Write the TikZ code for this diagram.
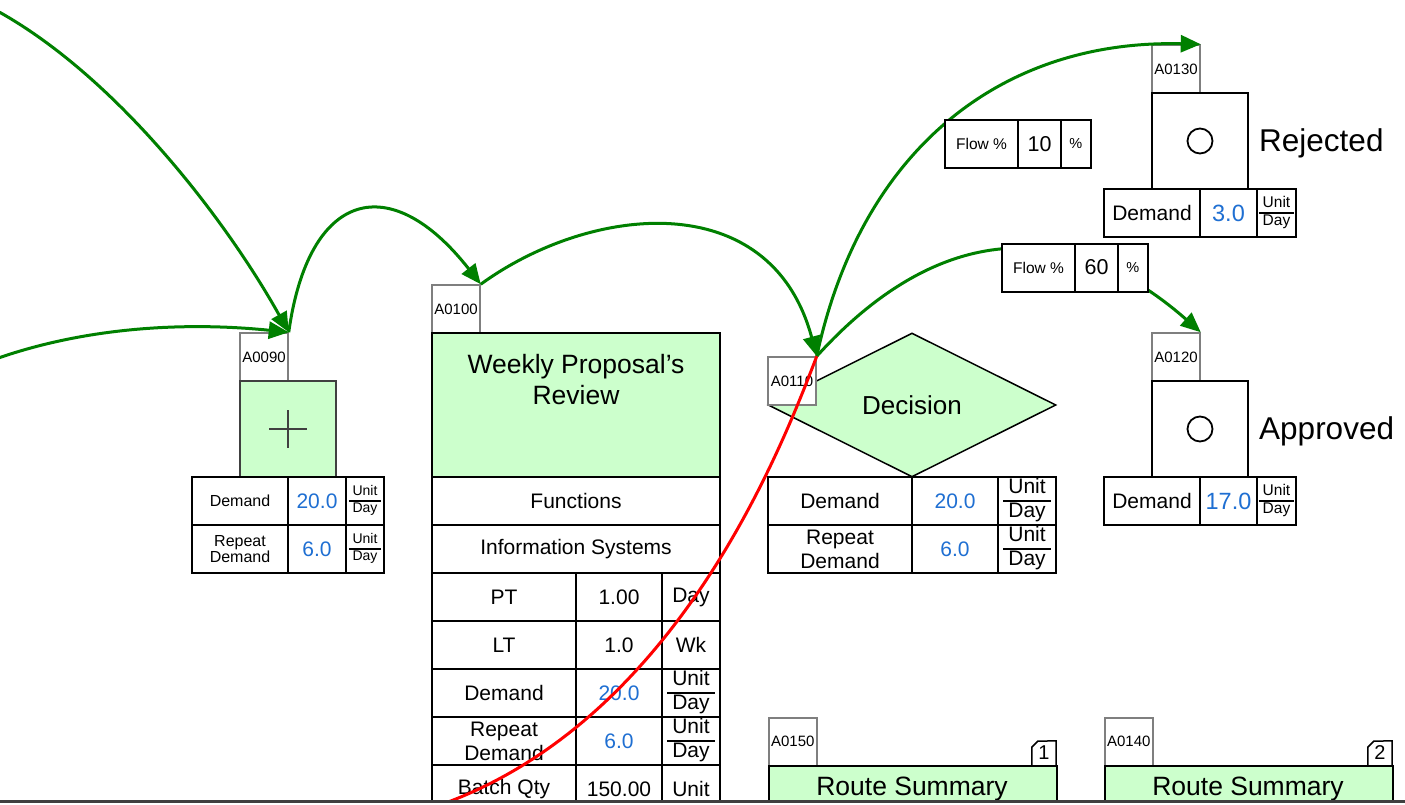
\documentclass[tikz,border=0pt]{standalone}
\usepackage{fontspec}
\setmainfont{Liberation Sans}
\usetikzlibrary{arrows.meta, shapes.geometric}
\definecolor{FG}{HTML}{008000}
\definecolor{LG}{HTML}{CCFFCC}
\definecolor{VB}{HTML}{1F6FD2}
\definecolor{MG}{HTML}{7F7F7F}
\definecolor{DG}{HTML}{404040}
\newcommand{\fsz}[2]{\fontsize{#1}{#2}\selectfont}
\newcommand{\perday}[2]{{\fsz{#1}{#2}\setlength{\arrayrulewidth}{1.5pt}%
  \begin{tabular}{@{\hspace{.25em}}c@{\hspace{.25em}}}Unit\\\hline Day\end{tabular}}}

\begin{document}
\begin{tikzpicture}[x=1pt, y=-1pt,
  tag/.style={draw=MG, fill=white, line width=1.5pt, minimum width=48pt,
              minimum height=48pt, inner sep=0pt, font=\fsz{15}{16}},
  cell/.style={draw=black, fill=white, line width=2pt, inner sep=0pt,
               outer sep=0pt, align=center, minimum height=48pt},
  lbl/.style={cell, font=\fsz{21}{24}},
  val/.style={cell, text=VB, font=\fsz{21}{23}},
  act/.style={draw=black, fill=LG, line width=2pt, inner sep=0pt},
  endbox/.style={draw=black, fill=white, line width=2pt,
                 minimum width=96pt, minimum height=96pt},
  ring/.style={circle, draw=black, line width=1.8pt, minimum size=25pt, inner sep=0pt},
  flow/.style={draw=FG, line width=3pt, -{Triangle[length=20pt,width=17pt]}}
]
\useasboundingbox (0,0) rectangle (1405,805);
\begin{scope}
\clip (0,0) rectangle (1405,800);

% A0090 junction
\node[tag] (tag90) at (264,357) {A0090};
\node[act, draw=DG, line width=2.5pt, minimum width=96pt, minimum height=96pt] (box90) at (288,429) {};
\draw[DG, line width=2.2pt] (box90.center) +(-19,0) -- +(19,0) +(0,-19) -- +(0,19);
\foreach \y/\n/\lab/\v in {501/d/Demand/20.0, 549/r/{Repeat\\Demand}/6.0}
{
  \node[cell, minimum width=96pt, font=\fsz{16}{16.5}] (\n90a) at (240,\y) {\lab};
  \node[val, minimum width=58pt] (\n90b) at (317,\y) {\v};
  \node[cell, minimum width=38pt] (\n90c) at (365,\y) {\perday{14}{15.5}};
}

% A0100 activity
\node[tag] (tag100) at (456,309) {A0100};
\node[act, minimum width=288pt, minimum height=144pt] (box100) at (576,405) {};
\node[font=\fsz{26.5}{31}, align=center] (name100) at (576,380) {Weekly Proposal’s\\Review};
\node[lbl, minimum width=288pt] (fun100) at (576,501) {Functions};
\node[lbl, minimum width=288pt] (sys100) at (576,549) {Information Systems};
\foreach \i/\y/\lab/\v/\u in {1/597/PT/1.00/Day, 2/645/LT/1.0/Wk,
  3/693/Demand/\textcolor{VB}{20.0}/\perday{21}{23},
  4/741/{Repeat\\Demand}/\textcolor{VB}{6.0}/\perday{21}{23},
  5/789/Batch Qty/150.00/Unit}
{
  \node[lbl, minimum width=144pt] (a100-\i) at (504,\y) {\lab};
  \node[lbl, minimum width=86pt] (b100-\i) at (619,\y) {\v};
  \node[lbl, minimum width=58pt] (c100-\i) at (691,\y) {\u};
}

% A0110 decision
\node[act, line width=1.5pt, shape=diamond, minimum width=288pt, minimum height=144pt,
      font=\fsz{26}{28}] (dec110) at (912,405) {Decision};
\node[tag] (tag110) at (792,381) {A0110};
\foreach \y/\n/\lab/\v in {501/d/Demand/20.0, 549/r/{Repeat\\Demand}/6.0}
{
  \node[lbl, minimum width=144pt] (\n110a) at (840,\y) {\lab};
  \node[val, minimum width=86pt] (\n110b) at (955,\y) {\v};
  \node[cell, minimum width=58pt] (\n110c) at (1027,\y) {\perday{21}{23}};
}

% A0130 / A0120 end points
\foreach \n/\dy/\txt/\v in {130/0/Rejected/3.0, 120/288/Approved/17.0}
{
  \node[tag] (tag\n) at (1176,69+\dy) {A0\n};
  \node[endbox] (box\n) at (1200,141+\dy) {};
  \node[ring] (ring\n) at (box\n.center) {};
  \node[anchor=base west, inner sep=0pt, font=\fsz{31.5}{33}] (txt\n) at (1259,151.5+\dy) {\txt};
  \node[lbl, minimum width=96pt] (dm\n) at (1152,213+\dy) {Demand};
  \node[val, minimum width=57pt, font=\fsz{23.5}{25}] (dv\n) at (1228.5,213+\dy) {\v};
  \node[cell, minimum width=39pt] (du\n) at (1276.5,213+\dy) {\perday{15.5}{16.5}};
}

% A0150 / A0140 route summaries
\foreach \n/\x/\k in {150/768/1, 140/1104/2}
{
  \node[tag, anchor=north west] (tag\n) at (\x,717) {A0\n};
  \node[act, anchor=north west, minimum width=288pt, minimum height=96pt] (box\n) at (\x,765) {};
  \node[font=\fsz{26.5}{28}] (name\n) at (\x+144,789) {Route Summary};
  \node[font=\fsz{20}{20}, minimum width=24pt, minimum height=24pt, inner sep=0pt] (num\n) at (\x+276,753) {\k};
  \draw[line width=1.5pt] (num\n.south west) -- ++(0,-18) -- ++(6,-6) -- (num\n.north east) -- (num\n.south east);
}

% connectors
\coordinate (inA) at (-12,6);
\coordinate (inB) at (-10,361);
\coordinate (outR) at (440,805);
\draw[flow] (inA) .. controls +(124,64) and +(-63,-113) .. (tag90.north east);
\draw[flow] (inB) .. controls +(90,-33) and +(-108,-11) .. (tag90.north east);
\draw[flow] (tag90.north east) .. controls +(20,-143) and +(-90,-115) .. (tag100.north east);
\draw[flow] (tag100.north east) .. controls +(110,-80) and +(-46,-171) .. (tag110.north east);
\draw[flow] (tag110.north east) .. controls +(44,-206) and +(-200,-5) .. (tag130.north east);
\draw[flow] (tag110.north east) .. controls +(114,-126) and +(-140,-123) .. (tag120.north east);

% Flow % boxes
\foreach \v/\dx/\dy in {10/0/0, 60/57/123.5}
{
  \node[cell, minimum width=72.5pt, font=\fsz{15.5}{16}] (fa\v) at (981.5+\dx,144+\dy) {Flow \%};
  \node[cell, minimum width=43pt, font=\fsz{21.5}{22}] (fb\v) at (1039.5+\dx,144+\dy) {\v};
  \node[cell, minimum width=29.5pt, font=\fsz{14.5}{15}] (fc\v) at (1075.75+\dx,144+\dy) {\%};
}

\draw[red, line width=3pt] (tag110.north east) .. controls +(-36,94) and +(236,-84) .. (outR);
\end{scope}
\draw[DG, line width=3pt] (0,801) -- (1405,801);
\end{tikzpicture}
\end{document}
